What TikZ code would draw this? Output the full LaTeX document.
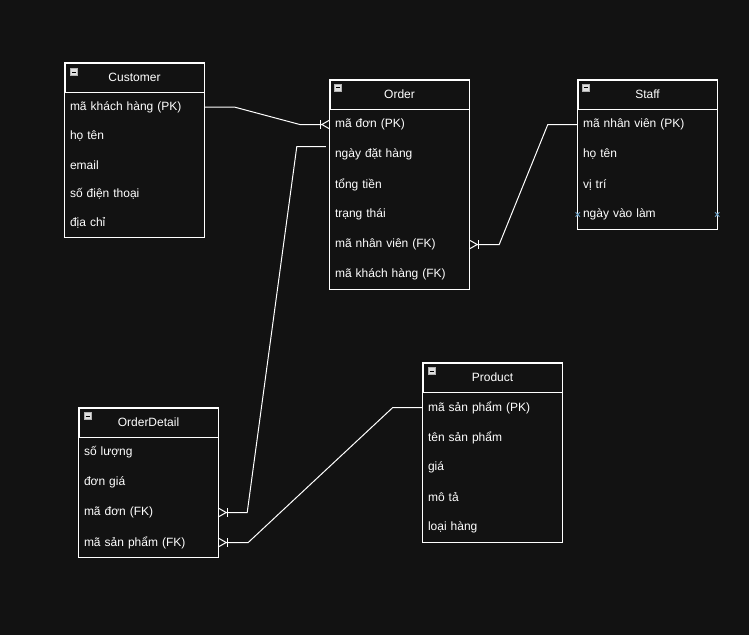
\documentclass[tikz,border=0pt]{standalone}
\usepackage{fontspec}
\setmainfont{Liberation Sans}
\usetikzlibrary{positioning,shapes.misc}

\definecolor{bgdark}{HTML}{121212}
\definecolor{pinblue}{HTML}{6A9FC4}

% crow's foot (one or many) at a box edge; #2 = -1 line comes from the left, 1 from the right
\newcommand{\manyend}[2]{%
  \draw[conn] ([yshift=4.5pt]#1) -- ([xshift=#2*8pt]#1) -- ([yshift=-4.5pt]#1);
  \draw[conn] ([xshift=#2*9pt,yshift=4.5pt]#1) -- ([xshift=#2*9pt,yshift=-4.5pt]#1);}

\tikzset{
  title/.style={draw=white, fill=bgdark, text=white, line width=1pt,
    minimum width=139pt, minimum height=29pt, inner sep=0pt, anchor=north west},
  field/.style={text=white, minimum width=139pt, text width=129pt, inner xsep=5pt,
    inner ysep=0pt, minimum height=30pt, align=left},
  icon/.style={draw=gray!60, fill=gray!25, minimum size=7pt, inner sep=0pt,
    path picture={\draw[black, line width=1pt] ([xshift=1.5pt]path picture bounding box.west)
      -- ([xshift=-1.5pt]path picture bounding box.east);}},
  frame/.style={draw=white, line width=1pt},
  conn/.style={draw=white, line width=1pt},
  pinx/.style={cross out, draw=pinblue, minimum size=3.5pt, inner sep=0pt, line width=0.9pt}
}

\begin{document}
\begin{tikzpicture}[x=1pt, y=-1pt, font=\fontsize{12pt}{14pt}\selectfont]
  \useasboundingbox[fill=bgdark] (0,0) rectangle (749,635);

  % Customer
  \node[title] (customer) at (64.5,62.5) {Customer};
  \foreach \f [count=\i] in {mã khách hàng (PK), họ tên, email, số điện thoại, địa chỉ}
    \node[field, minimum height=29pt] (customer-\i) at ([yshift={-(\i-0.5)*29pt}]customer.south) {\f};
  \draw[frame] (customer.north west) rectangle (customer-5.south east);
  \node[icon] (customer-icon) at ([xshift=9.5pt,yshift=-9.5pt]customer.north west) {};

  % Order
  \node[title] (order) at (329.5,79.5) {Order};
  \foreach \f [count=\i] in {mã đơn (PK), ngày đặt hàng, tổng tiền, trạng thái, mã nhân viên (FK), mã khách hàng (FK)}
    \node[field] (order-\i) at ([yshift={-(\i-0.5)*30pt}]order.south) {\f};
  \draw[frame] (order.north west) rectangle (order-6.south east);
  \node[icon] (order-icon) at ([xshift=8.5pt,yshift=-8pt]order.north west) {};

  % Staff
  \node[title] (staff) at (577.5,79.5) {Staff};
  \foreach \f [count=\i] in {mã nhân viên (PK), họ tên, vị trí, ngày vào làm}
    \node[field] (staff-\i) at ([yshift={-(\i-0.5)*30pt}]staff.south) {\f};
  \draw[frame] (staff.north west) rectangle (staff-4.south east);
  \node[icon] (staff-icon) at ([xshift=8.5pt,yshift=-8pt]staff.north west) {};
  \node[pinx] (pin-left) at (staff-4.west) {};
  \node[pinx] (pin-right) at (staff-4.east) {};

  % OrderDetail
  \node[title] (detail) at (78.5,407.5) {OrderDetail};
  \foreach \f [count=\i] in {số lượng, đơn giá, mã đơn (FK), mã sản phẩm (FK)}
    \node[field] (detail-\i) at ([yshift={-(\i-0.5)*30pt}]detail.south) {\f};
  \draw[frame] (detail.north west) rectangle (detail-4.south east);
  \node[icon] (detail-icon) at ([xshift=9pt,yshift=-8.5pt]detail.north west) {};

  % Product
  \node[title] (product) at (422.5,362.5) {Product};
  \foreach \f [count=\i] in {mã sản phẩm (PK), tên sản phẩm, giá, mô tả, loại hàng}
    \node[field] (product-\i) at ([yshift={-(\i-0.5)*30pt}]product.south) {\f};
  \draw[frame] (product.north west) rectangle (product-5.south east);
  \node[icon] (product-icon) at ([xshift=9pt,yshift=-8.5pt]product.north west) {};

  % relations
  \draw[conn] (customer-1.east) -- ++(30,0) -- ([xshift=-30pt]order-1.west) -- ([xshift=-8pt]order-1.west);
  \manyend{order-1.west}{-1}

  \coordinate (order-date) at ([xshift=-4pt,yshift=8pt]order-2.west);
  \draw[conn] (order-date) -- ++(-29,0) -- ([xshift=29pt]detail-3.east) -- ([xshift=8pt]detail-3.east);
  \manyend{detail-3.east}{1}

  \draw[conn] (staff-1.west) -- ++(-30,0) -- ([xshift=30pt]order-5.east) -- ([xshift=8pt]order-5.east);
  \manyend{order-5.east}{1}

  \draw[conn] (product-1.west) -- ++(-30,0) -- ([xshift=30pt]detail-4.east) -- ([xshift=8pt]detail-4.east);
  \manyend{detail-4.east}{1}
\end{tikzpicture}
\end{document}
